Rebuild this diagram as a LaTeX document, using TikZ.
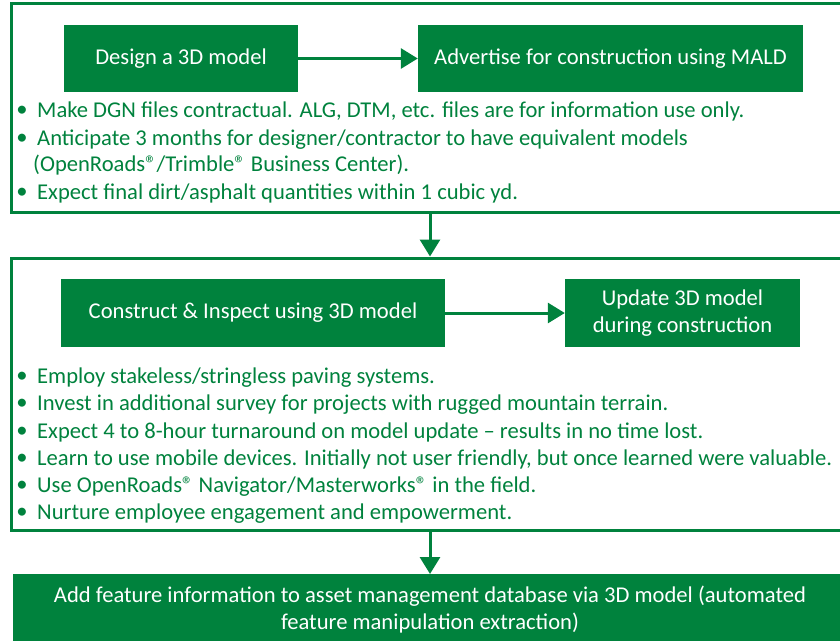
\documentclass[tikz,border=0pt]{standalone}
\usepackage{fontspec}
\setmainfont{Carlito}
\usetikzlibrary{arrows.meta}
\definecolor{dotgreen}{RGB}{0,130,61}
\tikzset{
  every node/.style={font=\fontsize{22.6}{27}\selectfont},
  frame/.style={draw=dotgreen, line width=3pt, minimum width=838pt, inner sep=0pt},
  stepbox/.style={fill=dotgreen, text=white, inner sep=0pt, align=center},
  bul/.style={text=dotgreen, anchor=center, inner sep=0pt, yshift=-1.5pt},
  item/.style={text=dotgreen, anchor=west, inner sep=0pt, yshift=-1.5pt},
  flow/.style={draw=dotgreen, line width=3pt, -{Triangle[length=17pt,width=20pt]}}
}
\begin{document}
\begin{tikzpicture}[x=1pt,y=-1pt]
\useasboundingbox (0,0) rectangle (840,640);
\clip (0,0) rectangle (840,640);

% first stage: design and advertise
\node[frame, minimum height=209pt] (frame1) at (430,107.5) {};
\node[stepbox, minimum width=234pt, minimum height=67pt] (design) at (181,58.5) {Design a 3D model};
\node[stepbox, minimum width=385pt, minimum height=67pt] (advert) at (610.5,58.5) {Advertise for construction using MALD};
\draw[flow] (design) -- (advert);

\node[bul] (b1) at (22,110) {\textbullet};
\node[item] (t1) at (37,110) {Make DGN files contractual. ALG, DTM, etc. files are for information use only.};
\node[bul] (b2) at (22,138) {\textbullet};
\node[item] (t2) at (37,138) {Anticipate 3 months for designer/contractor to have equivalent models};
\node[item] (t2b) at (33,164) {(OpenRoads®/Trimble® Business Center).};
\node[bul] (b3) at (22,192) {\textbullet};
\node[item] (t3) at (37,192) {Expect final dirt/asphalt quantities within 1 cubic yd.};

% second stage: construction
\node[frame, minimum height=272pt] (frame2) at (430,394) {};
\node[stepbox, minimum width=384pt, minimum height=68pt] (build) at (253,313) {Construct \& Inspect using 3D model};
\node[stepbox, minimum width=235pt, minimum height=68pt] (update) at (682.5,313) {Update 3D model\\during construction};
\draw[flow] (build) -- (update);

\node[bul] (c1) at (22,376) {\textbullet};
\node[item] (u1) at (37,376) {Employ stakeless/stringless paving systems.};
\node[bul] (c2) at (22,403) {\textbullet};
\node[item] (u2) at (37,403) {Invest in additional survey for projects with rugged mountain terrain.};
\node[bul] (c3) at (22,431) {\textbullet};
\node[item] (u3) at (37,431) {Expect 4 to 8-hour turnaround on model update -- results in no time lost.};
\node[bul] (c4) at (22,458) {\textbullet};
\node[item] (u4) at (37,458) {Learn to use mobile devices. Initially not user friendly, but once learned were valuable.};
\node[bul] (c5) at (22,485) {\textbullet};
\node[item] (u5) at (37,485) {Use OpenRoads® Navigator/Masterworks® in the field.};
\node[bul] (c6) at (22,512) {\textbullet};
\node[item] (u6) at (37,512) {Nurture employee engagement and empowerment.};

% final stage: asset management
\node[stepbox, minimum width=834pt, minimum height=86pt, anchor=north] (final) at (430,574) {};
\node[text=white, align=center, inner sep=0pt] (finaltext) at (430,609.5) {Add feature information to asset management database via 3D model (automated\\feature manipulation extraction)};

\draw[flow] (frame1.south -| final.center) -- (frame2.north -| final.center);
\draw[flow] (frame2.south -| final.center) -- (final.north);
\end{tikzpicture}
\end{document}
